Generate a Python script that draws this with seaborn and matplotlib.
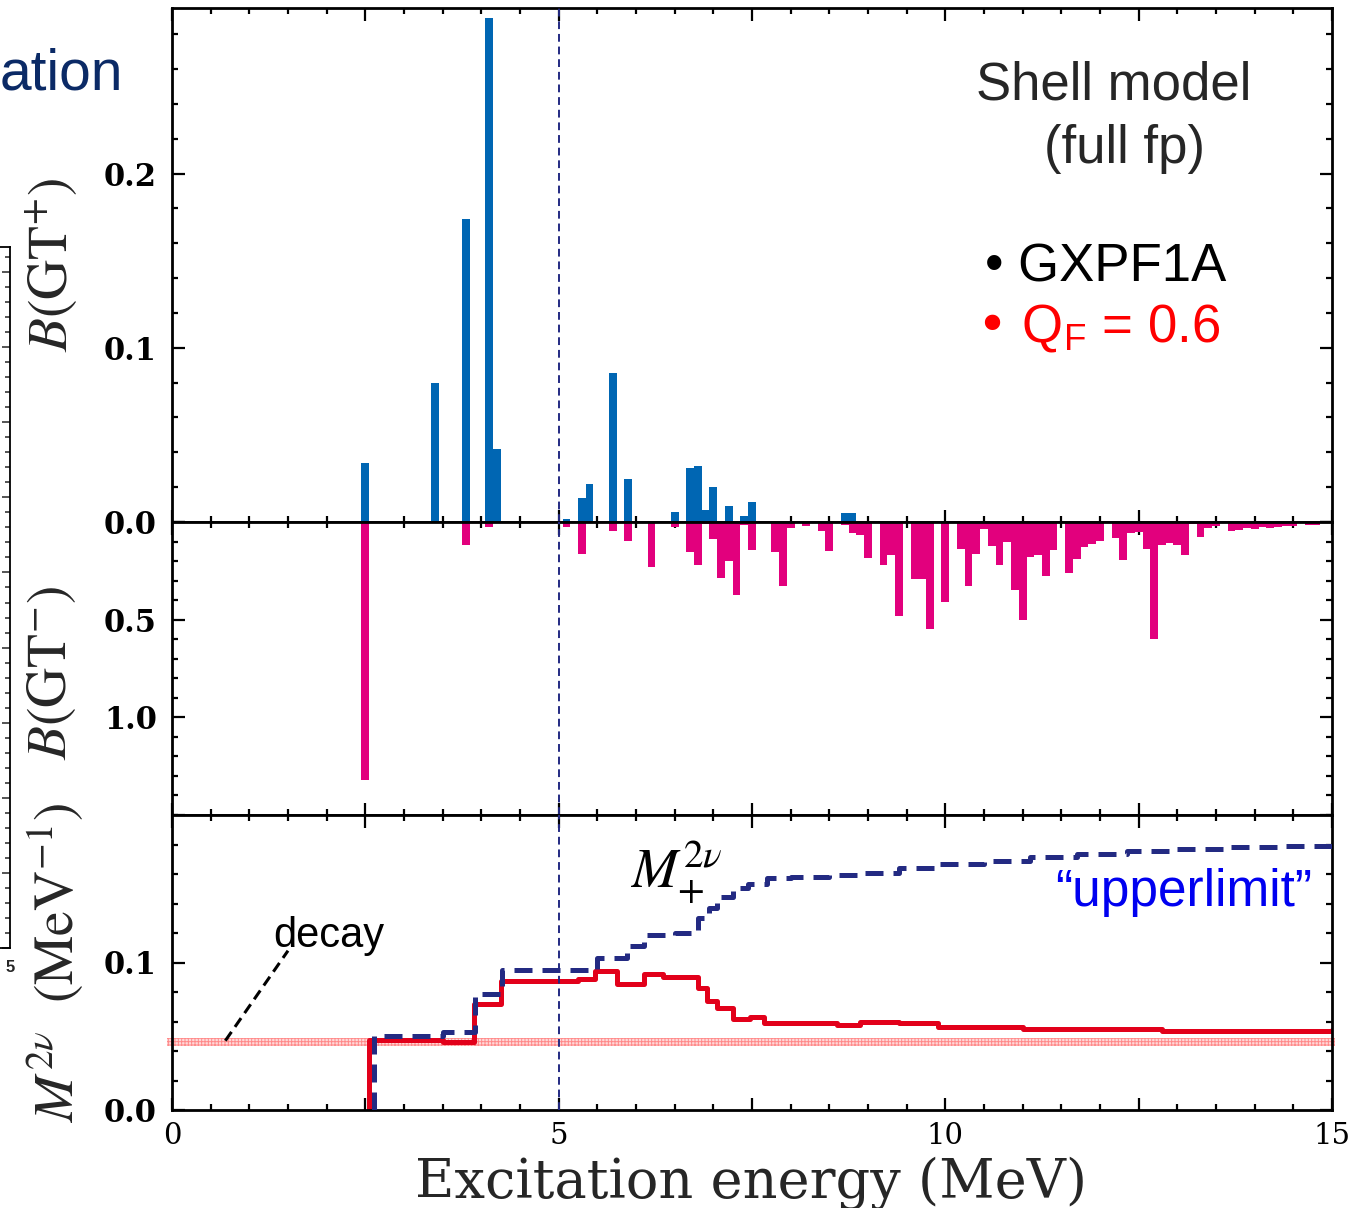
import numpy as np
import pandas as pd
import seaborn as sns
import matplotlib
matplotlib.use("Agg")
import matplotlib.pyplot as plt
from matplotlib.ticker import MultipleLocator, FixedLocator, FixedFormatter, FuncFormatter

# ---------------------------------------------------------------------------
# Gamow-Teller strengths in 0.1 MeV bins (bin centre, MeV)
# ---------------------------------------------------------------------------
gt_plus_energy = [2.5, 3.4, 3.8, 4.1, 4.2, 5.1, 5.3, 5.4, 5.7, 5.9,
                  6.5, 6.7, 6.8, 6.9, 7.0, 7.2, 7.4, 7.5, 8.7, 8.8]
gt_plus_strength = [0.034, 0.080, 0.174, 0.289, 0.042, 0.002, 0.014, 0.022, 0.0856, 0.0245,
                    0.006, 0.031, 0.032, 0.007, 0.020, 0.009, 0.0035, 0.0115, 0.005, 0.005]

gt_minus_energy = [2.5, 3.8, 4.1, 5.1, 5.3, 5.7, 5.9, 6.2, 6.5, 6.7,
                   6.8, 6.9, 7.0, 7.1, 7.2, 7.3, 7.4, 7.5, 7.8, 7.9,
                   8.0, 8.2, 8.4, 8.5, 8.7, 8.8, 8.9, 9.0, 9.2, 9.3,
                   9.4, 9.6, 9.7, 9.8, 10.0, 10.2, 10.3, 10.4, 10.5, 10.6,
                   10.7, 10.8, 10.9, 11.0, 11.1, 11.2, 11.3, 11.4, 11.6, 11.7,
                   11.8, 11.9, 12.0, 12.2, 12.3, 12.4, 12.5, 12.6, 12.7, 12.8,
                   12.9, 13.0, 13.1, 13.2, 13.3, 13.4, 13.5, 13.7, 13.8, 13.9,
                   14.0, 14.1, 14.2, 14.3, 14.4, 14.5, 14.7, 14.8]
gt_minus_strength = [1.32, 0.12, 0.026, 0.026, 0.163, 0.045, 0.095, 0.228, 0.027, 0.153,
                     0.219, 0.010, 0.087, 0.286, 0.199, 0.372, 0.016, 0.143, 0.153, 0.327,
                     0.031, 0.020, 0.046, 0.148, 0.016, 0.055, 0.067, 0.184, 0.219, 0.168,
                     0.48, 0.29, 0.29, 0.55, 0.41, 0.14, 0.33, 0.166, 0.036, 0.123,
                     0.22, 0.10, 0.35, 0.50, 0.18, 0.17, 0.275, 0.145, 0.26, 0.19,
                     0.13, 0.115, 0.098, 0.08, 0.196, 0.056, 0.05, 0.137, 0.60, 0.12,
                     0.107, 0.12, 0.17, 0.01, 0.077, 0.03, 0.02, 0.044, 0.04, 0.03,
                     0.037, 0.027, 0.033, 0.027, 0.02, 0.02, 0.015, 0.015]

# Running sums of the 2nu matrix element (MeV^-1)
m_qf_energy = [2.55, 2.55, 3.5, 3.9, 4.25, 5.25, 5.47, 5.75, 6.1, 6.35,
               6.8, 6.92, 7.05, 7.25, 7.48, 7.65, 8.6, 8.9, 9.4, 9.9,
               11.0, 12.8, 15.0]
m_qf_value = [0.0, 0.0476, 0.046, 0.072, 0.0872, 0.0885, 0.094, 0.0856, 0.092, 0.0905,
              0.083, 0.074, 0.069, 0.062, 0.063, 0.0588, 0.0573, 0.0595, 0.059, 0.0563,
              0.0547, 0.0537, 0.054]

m_up_energy = [2.61, 2.61, 3.5, 3.92, 4.27, 5.5, 5.88, 6.1, 6.5, 6.8,
               6.95, 7.05, 7.25, 7.45, 7.7, 8.0, 8.5, 8.9, 9.4, 9.9,
               10.5, 11.1, 11.7, 12.35, 13.0, 13.6, 14.3, 15.0]
m_up_value = [0.0, 0.050, 0.053, 0.0787, 0.0948, 0.103, 0.1115, 0.1185, 0.120, 0.130,
              0.137, 0.1445, 0.1505, 0.153, 0.157, 0.1577, 0.159, 0.161, 0.164, 0.167,
              0.169, 0.1716, 0.1737, 0.1757, 0.1768, 0.178, 0.179, 0.180]

# measured 2nu decay matrix element
m_exp_value = 0.046
m_exp_err = 0.0027

# Q-value marker
q_energy = 5.0

BLUE_BAR = "#0066B3"
PINK_BAR = "#E2007D"
RED_LINE = "#E2001A"
NAVY = "#232A82"

sns.set_theme(style="ticks")
plt.rcParams["font.family"] = ["Liberation Sans", "DejaVu Sans"]
plt.rcParams["hatch.linewidth"] = 0.7
plt.rcParams["axes.linewidth"] = 2.0

W, H = 1361, 1208
fig = plt.figure(figsize=(W / 100, H / 100), dpi=100)


def rect(x0, y_top, x1, y_bot):
    return [x0 / W, 1 - y_bot / H, (x1 - x0) / W, (y_bot - y_top) / H]


ax_top = fig.add_axes(rect(172, 8, 1332, 522))
ax_mid = fig.add_axes(rect(172, 522, 1332, 815))
ax_bot = fig.add_axes(rect(172, 815, 1332, 1110))

bins = dict(binwidth=0.1, binrange=(-0.05, 15.05))
sns.histplot(x=gt_plus_energy, weights=gt_plus_strength, ax=ax_top, color=BLUE_BAR,
             alpha=1, linewidth=0, **bins)
sns.histplot(x=gt_minus_energy, weights=gt_minus_strength, ax=ax_mid, color=PINK_BAR,
             alpha=1, linewidth=0, **bins)

sns.lineplot(x=m_up_energy, y=m_up_value, ax=ax_bot, color=NAVY, linewidth=3.6,
             linestyle=(0, (3.6, 2.0)), drawstyle="steps-post", sort=False,
             estimator=None, zorder=3)
sns.lineplot(x=m_qf_energy, y=m_qf_value, ax=ax_bot, color=RED_LINE, linewidth=3.6,
             drawstyle="steps-post", sort=False, estimator=None, zorder=2)

# experimental band
ax_bot.axhspan(m_exp_value - m_exp_err, m_exp_value + m_exp_err, xmin=-0.0045, xmax=1.003,
               facecolor="#FFD9D9", edgecolor="#FF8A8A", hatch="+++++", linewidth=0,
               clip_on=False, zorder=1)

for ax in (ax_top, ax_mid, ax_bot):
    ax.set_xlim(0, 15)
    ax.set_xlabel("")
    ax.set_ylabel("")
    ax.axvline(q_energy, color=NAVY, lw=1.4, linestyle=(0, (4, 2.5)), zorder=4)
    ax.xaxis.set_major_locator(MultipleLocator(2.5))
    ax.xaxis.set_minor_locator(MultipleLocator(0.5))
    ax.tick_params(which="both", direction="in", top=True, right=True,
                   width=1.6, labelsize=22, labelfontfamily="DejaVu Serif", colors="black")
    ax.tick_params(which="major", length=9)
    ax.tick_params(which="minor", length=4.5)
    for s in ax.spines.values():
        s.set_visible(True)
        s.set_linewidth(2.0)
        s.set_color("black")
    ax.set_facecolor("white")

ax_top.set_ylim(0, 0.295)
ax_top.yaxis.set_major_locator(MultipleLocator(0.1))
ax_top.yaxis.set_minor_locator(MultipleLocator(0.02))
ax_top.yaxis.set_major_formatter(FuncFormatter(lambda v, p: f"{v:.1f}"))
ax_top.tick_params(axis="x", labelbottom=False)

ax_mid.set_ylim(1.5, 0)
ax_mid.yaxis.set_major_locator(FixedLocator([0.0, 0.5, 1.0]))
ax_mid.yaxis.set_major_formatter(FixedFormatter(["", "0.5", "1.0"]))
ax_mid.yaxis.set_minor_locator(MultipleLocator(0.1))
ax_mid.tick_params(axis="x", labelbottom=False)

ax_bot.set_ylim(0, 0.2)
ax_bot.yaxis.set_major_locator(FixedLocator([0.0, 0.1, 0.2]))
ax_bot.yaxis.set_major_formatter(FixedFormatter(["0.0", "0.1", ""]))
ax_bot.yaxis.set_minor_locator(MultipleLocator(0.02))
ax_bot.xaxis.set_major_formatter(
    FuncFormatter(lambda v, p: f"{int(round(v))}" if abs(v / 5 - round(v / 5)) < 1e-6 else ""))
for ax in (ax_top, ax_mid, ax_bot):
    ax.tick_params(axis="y", pad=11)
    for lab in ax.get_yticklabels():
        lab.set_fontweight("bold")
ax_bot.tick_params(axis="x", pad=9, labelsize=21)

# annotations in the M2nu panel
ax_bot.plot([0.69, 1.5], [0.047, 0.108], color="black", lw=2.2,
            linestyle=(0, (3.5, 2)), zorder=3)
ax_bot.text(2.03, 0.1108, "decay", ha="center", va="baseline", fontsize=30, color="black")
ax_bot.text(5.92, 0.151, r"$M_{+}^{2\nu}$", ha="left", va="baseline", fontsize=40,
            math_fontfamily="stix", color="black")
ax_bot.text(11.42, 0.1385, "\u201cupperlimit\u201d", ha="left", va="baseline", fontsize=37,
            color="#0000F0")

# axis titles
fig.text(52 / W, 1 - 265 / H, r"$B(\mathrm{GT}^{+})$", rotation=90, ha="center", va="center",
         fontsize=40, math_fontfamily="stix")
fig.text(52 / W, 1 - 673 / H, r"$B(\mathrm{GT}^{-})$", rotation=90, ha="center", va="center",
         fontsize=40, math_fontfamily="stix")
fig.text(55 / W, 1 - 963 / H, r"$M^{2\nu}\ \ (\mathrm{MeV}^{-1})$", rotation=90, ha="center",
         va="center", fontsize=40, math_fontfamily="stix")
fig.text(751 / W, 1 - 1198 / H, "Excitation energy (MeV)", ha="center", va="baseline",
         fontsize=39, family="DejaVu Serif")

# model legend
fig.text(1114 / W, 1 - 100 / H, "Shell model", ha="center", va="baseline", fontsize=38)
fig.text(1124 / W, 1 - 163 / H, "(full fp)", ha="center", va="baseline", fontsize=38)
fig.text(985 / W, 1 - 282 / H, "\u2022 GXPF1A", ha="left", va="baseline", fontsize=38,
         color="black")
fig.text(976 / W, 1 - 342 / H, "\u2022 Q$_{\\mathregular{F}}$ = 0.6", ha="left",
         va="baseline", fontsize=38, color="#FF0000")

# slide heading fragment
fig.text(0, 1 - 90 / H, "ation", ha="left", va="baseline", fontsize=41, color="#0B2A66")

# neighbouring axis fragment at the left edge
ax_frag = fig.add_axes(rect(0, 247, 10, 948))
ax_frag.set_xlim(0, 1)
ax_frag.set_ylim(0, 700)
ax_frag.set_facecolor("none")
ax_frag.spines["left"].set_visible(False)
for side in ("right", "top", "bottom"):
    ax_frag.spines[side].set_linewidth(1.3)
    ax_frag.spines[side].set_color("black")
ax_frag.set_xticks([])
ax_frag.yaxis.set_major_locator(MultipleLocator(75))
ax_frag.yaxis.set_minor_locator(MultipleLocator(15))
ax_frag.tick_params(axis="y", which="both", direction="in", left=False, right=True,
                    labelleft=False, labelright=False, width=1.1)
ax_frag.tick_params(axis="y", which="major", length=6)
ax_frag.tick_params(axis="y", which="minor", length=3.5)
fig.text(10 / W, 1 - 968 / H, "5", ha="center", va="center", fontsize=12, fontweight="bold")

fig.savefig("out.png", dpi=100, facecolor="white")
